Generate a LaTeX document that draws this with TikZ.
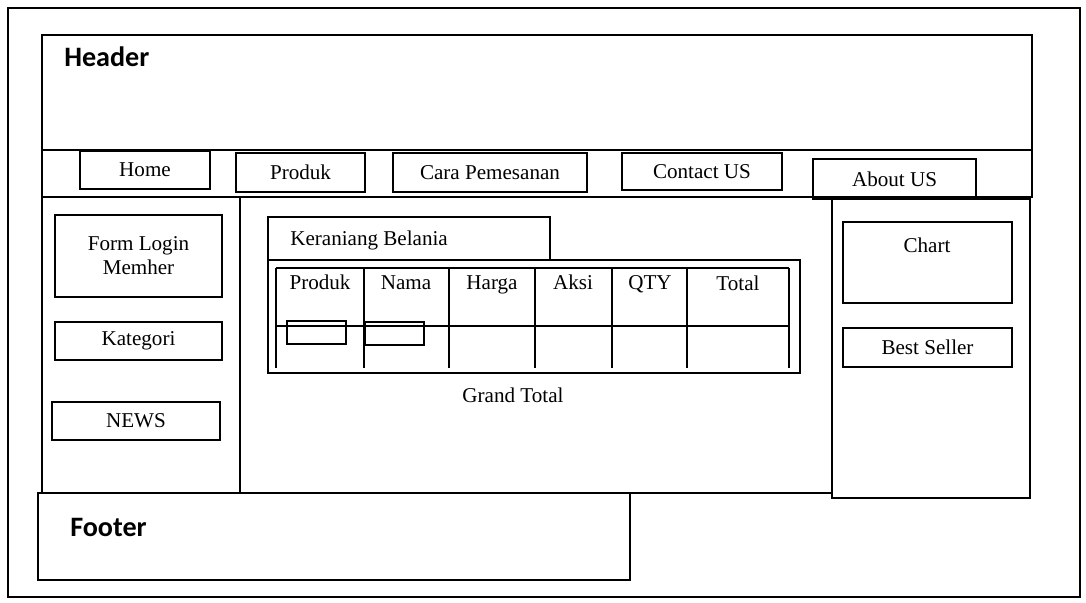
\documentclass[tikz,border=0pt]{standalone}
\usepackage{fontspec}
\setmainfont{Liberation Serif}
\newfontfamily\calibri{Carlito}
\usetikzlibrary{positioning}
\tikzstyle{every node}=[inner sep=0pt,font=\fontsize{15}{17}\selectfont]
\tikzstyle{frame}=[draw=black,line width=1.7pt]
\tikzstyle{navbox}=[draw=black,line width=1.7pt,minimum height=0.95cm]
\tikzstyle{sidebox}=[draw=black,line width=1.7pt,minimum width=4.2cm,minimum height=0.95cm]
\tikzstyle{title}=[anchor=west,font=\calibri\bfseries\fontsize{20}{24}\selectfont]
\tikzstyle{colhead}=[text height=1.5ex,text depth=.3ex]
\tikzstyle{grid}=[draw=black,line width=1.3pt]

\begin{document}
\begin{tikzpicture}[x=0.025cm,y=-0.025cm]
    \useasboundingbox (0,0) rectangle (1086,603);
    \fill[white] (0,0) rectangle (1086,603);
    % page frames
    \draw[frame] (8,8) rectangle (1080,597);
    \draw[frame] (42,35) rectangle (1032,150);
    \draw[frame] (42,150) rectangle (1032,197);
    \draw[frame] (42,197) rectangle (240,493);
    \draw[frame] (240,197) rectangle (832,493);
    \draw[frame] (832,199) rectangle (1030,498);
    \draw[frame] (38,493) rectangle (630,580);
    \node[title] (header) at (64,57) {Header};
    \node[title] (footer) at (70,527) {Footer};
    % menu
    \node[navbox,minimum width=3.25cm] (home) at (145,170) {Home};
    \node[navbox,minimum width=3.225cm,minimum height=0.975cm] (produk) at (300.5,172.5) {Produk};
    \node[navbox,minimum width=4.85cm,minimum height=0.975cm] (cara) at (490,172.5) {Cara Pemesanan};
    \node[navbox,minimum width=4cm,minimum height=0.925cm] (contact) at (702,171.5) {Contact US};
    \node[navbox,minimum width=4.075cm,minimum height=1cm] (about) at (894.5,179) {About US};
    % left side
    \node[sidebox,minimum width=4.175cm,minimum height=2.05cm,align=center] (login) at (138.5,256) {Form Login\\Memher};
    \node[sidebox,minimum width=4.175cm] (kategori) at (138.5,341) {Kategori};
    \node[sidebox] (news) at (136,421) {NEWS};
    % right side
    \node[sidebox,minimum width=4.225cm,minimum height=2.025cm] (chart) at (927.5,262.5) {};
    \node (charttext) at (927,245) {Chart};
    \node[sidebox,minimum width=4.225cm,minimum height=0.975cm] (best) at (927.5,347.5) {Best Seller};
    % keranjang
    \draw[frame] (268,217) rectangle (550,260);
    \node[anchor=west] (keranjang) at (290,240) {Keraniang Belania};
    \draw[frame] (268,260) rectangle (800,373);
    \draw[grid] (276,268) -- (789,268);
    \draw[grid] (276,326) -- (789,326);
    \draw[grid] (276,268) -- (276,368);
    \draw[grid] (364,268) -- (364,368);
    \draw[grid] (449,268) -- (449,368);
    \draw[grid] (535,268) -- (535,368);
    \draw[grid] (612,268) -- (612,368);
    \draw[grid] (687,268) -- (687,368);
    \draw[grid] (789,268) -- (789,368);
    \node[colhead] (colproduk) at (320,286) {Produk};
    \node[colhead] (colnama) at (406,286) {Nama};
    \node[colhead] (colharga) at (492,286) {Harga};
    \node[colhead] (colaksi) at (573,286) {Aksi};
    \node[colhead] (colqty) at (650,286) {QTY};
    \node[colhead] (coltotal) at (738,287) {Total};
    \node[navbox,minimum width=1.475cm,minimum height=0.575cm] (gambar) at (316.5,332.5) {};
    \node[navbox,minimum width=1.475cm,minimum height=0.575cm] (isian) at (394.5,333.5) {};
    \node (grandtotal) at (513,395) {Grand Total};
\end{tikzpicture}
\end{document}
